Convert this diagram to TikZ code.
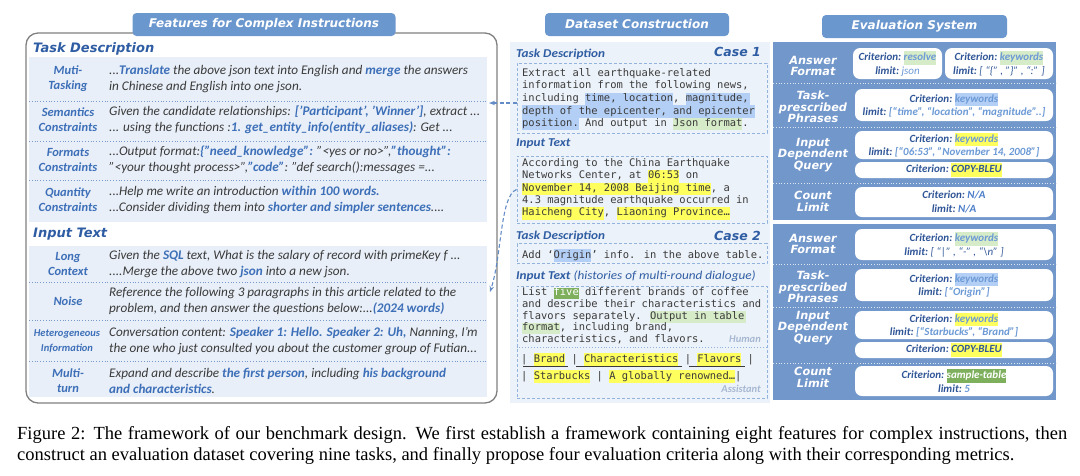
\documentclass[tikz,border=0pt]{standalone}
\usepackage{fontspec}
\setmainfont{Carlito}
\newfontfamily\verdfont{DejaVu Sans}
\newfontfamily\widefont[FakeStretch=1.1]{Carlito}
\newfontfamily\monofont{DejaVu Sans Mono}
\newfontfamily\capfont{Liberation Serif}
\usetikzlibrary{arrows.meta,positioning}

\definecolor{tabblue}{HTML}{6B97CF}
\definecolor{panelblue}{HTML}{7297CB}
\definecolor{rowbg}{HTML}{E8EFF8}
\definecolor{midbg}{HTML}{ECF2F9}
\definecolor{hdrblue}{HTML}{2F5DA3}
\definecolor{kwblue}{HTML}{3D6FB8}
\definecolor{bodygray}{HTML}{3A3A3A}
\definecolor{hlblue}{HTML}{B4CFF5}
\definecolor{hlgreen}{HTML}{D6EBC8}
\definecolor{hlyellow}{HTML}{FFFF5E}
\definecolor{hldgreen}{HTML}{7DAF5C}
\definecolor{dashblue}{HTML}{93B3DD}
\definecolor{lightkw}{HTML}{6C9AD6}
\definecolor{critblue}{HTML}{2F5597}
\definecolor{nablue}{HTML}{4A7DC8}
\definecolor{rolegray}{HTML}{A7B8D3}

\newcommand{\kw}[1]{\textcolor{kwblue}{\bfseries\itshape #1}}
\newcommand{\hl}[2]{{\setlength{\fboxsep}{0pt}\colorbox{#1}{\strut #2}}}
\newcommand{\crit}{Criterion:}
\newcommand{\limitlbl}{limit:}

\tikzset{
  tab/.style={fill=tabblue, rounded corners=4pt, text=white, minimum height=23pt,
    font=\verdfont\bfseries\itshape\fontsize{12}{14}\selectfont},
  hdr/.style={anchor=west, inner sep=0pt, text=hdrblue,
    font=\verdfont\bfseries\itshape\fontsize{13}{14}\selectfont},
  midhdr/.style={anchor=west, inner sep=0pt, text=hdrblue,
    font=\widefont\bfseries\itshape\fontsize{12}{14}\selectfont},
  casehdr/.style={anchor=east, inner sep=0pt, text=hdrblue,
    font=\verdfont\bfseries\itshape\fontsize{12.5}{14}\selectfont},
  lbl/.style={align=center, inner sep=0pt, text=kwblue,
    font=\bfseries\itshape\fontsize{12.5}{15}\selectfont},
  body/.style={anchor=west, align=left, inner sep=0pt, text=bodygray,
    font=\itshape\fontsize{13.2}{15.5}\selectfont},
  sep/.style={kwblue!70, dotted, line width=0.8pt},
  dbox/.style={draw=dashblue, dashed, dash pattern=on 3pt off 2pt, line width=1pt},
  mono/.style={anchor=north west, align=left, inner sep=0pt, text=bodygray,
    font=\monofont\fontsize{10.45}{12.6}\selectfont},
  role/.style={anchor=east, inner sep=0pt, text=rolegray,
    font=\bfseries\itshape\fontsize{10.5}{12}\selectfont},
  rlbl/.style={align=center, inner sep=0pt, text=white,
    font=\verdfont\bfseries\itshape\fontsize{11.3}{11.5}\selectfont},
  critbox/.style={fill=white, rounded corners=7pt, align=center, inner sep=1pt,
    text=critblue, minimum width=198pt, font=\bfseries\itshape\fontsize{11}{13.5}\selectfont},
  rsep/.style={white!75!panelblue, dotted, line width=0.8pt},
  link/.style={kwblue!80, dashed, dash pattern=on 4pt off 2.5pt, line width=1.1pt, -{Stealth[length=6pt]}},
  tblrule/.style={bodygray, line width=0.6pt},
  caption/.style={anchor=west, inner sep=0pt, font=\capfont\fontsize{18.5}{21}\selectfont}
}

\begin{document}
\begin{tikzpicture}[x=1pt,y=-1pt]
  \useasboundingbox (0,0) rectangle (1080,475);

  % left panel: features
  \draw[gray, line width=1.3pt, rounded corners=12pt] (26,33) rectangle (497,403);
  \node[tab, minimum width=263pt] (ftab) at (264,24.5) {Features for Complex Instructions};
  \node[hdr] (taskhdr) at (33,49) {Task Description};
  \fill[rowbg] (29,57) rectangle (487,222);
  \node[hdr] (inhdr) at (33,234) {Input Text};
  \fill[rowbg] (29,246) rectangle (487,397);
  \foreach \y in {101,141,180,282,320,361}
    \draw[sep] (29,\y) -- (487,\y);

  \node[lbl] (lmulti) at (68,79) {Muti-\\Tasking};
  \node[lbl] (lsem) at (68,120) {Semantics\\Constraints};
  \node[lbl] (lfmt) at (68,160) {Formats\\Constraints};
  \node[lbl] (lqty) at (68,200) {Quantity\\Constraints};
  \node[lbl] (llong) at (68,264) {Long\\Context};
  \node[lbl] (lnoise) at (68,301) {Noise};
  \node[lbl, font=\bfseries\itshape\fontsize{10.5}{15}\selectfont] (lhet) at (67,341) {Heterogeneous\\Information};
  \node[lbl] (lturn) at (68,381) {Multi-\\turn};

  \node[body] (tmulti) at (109,79) {...\kw{Translate} the above json text into English and \kw{merge} the answers\\in Chinese and English into one json.};
  \node[body] (tsem) at (109,120) {Given the candidate relationships: \kw{['Participant', 'Winner']}, extract ...\\... using the functions :\kw{1. get\_entity\_info(entity\_aliases)}: Get ...};
  \node[body] (tfmt) at (109,160) {...Output format:\kw{\{"need\_knowledge":} "<yes or no>",\kw{"thought":}\\"<your thought process>",\kw{"code"}: "def search():messages =...};
  \node[body] (tqty) at (109,200) {...Help me write an introduction \kw{within 100 words.}\\...Consider dividing them into \kw{shorter and simpler sentences}....};
  \node[body] (tlong) at (109,264) {Given the \kw{SQL} text, What is the salary of record with primeKey f ...\\....Merge the above two \kw{json} into a new json.};
  \node[body] (tnoise) at (109,301) {Reference the following 3 paragraphs in this article related to the\\problem, and then answer the questions below:...\kw{(2024 words)}};
  \node[body] (thet) at (109,341) {Conversation content: \kw{Speaker 1: Hello. Speaker 2: Uh,} Nanning, I'm\\the one who just consulted you about the customer group of Futian...};
  \node[body] (tturn) at (109,381) {Expand and describe \kw{the first person}, including \kw{his background}\\\kw{and characteristics}.};

  % middle panel: dataset construction
  \fill[midbg] (510,42) rectangle (770,403);
  \node[tab, minimum width=184pt] (dtab) at (637,24.5) {Dataset Construction};
  \node[midhdr] (td1) at (516,54) {Task Description};
  \node[casehdr] (case1) at (761,52) {Case 1};
  \node[dbox, minimum width=250pt, minimum height=70pt] (tdbox1) at (642,98) {};
  \node[mono] (tdtxt1) at (522,68) {Extract all earthquake-related\\information from the following news,\\including \hl{hlblue}{time, location}, \hl{hlblue}{magnitude,\,}\\\hl{hlblue}{depth of the epicenter, and epicenter}\\\hl{hlblue}{position.} And output in \hl{hlgreen}{Json format}.};
  \node[midhdr] (it1) at (516,144) {Input Text};
  \node[dbox, minimum width=250pt, minimum height=67pt] (indbox1) at (642,189.5) {};
  \node[mono, font=\monofont\fontsize{10.45}{12.3}\selectfont] (intxt1) at (522,158.5) {According to the China Earthquake\\Networks Center, at \hl{hlyellow}{06:53} on\\\hl{hlyellow}{November 14, 2008 Beijing time}, a\\4.3 magnitude earthquake occurred in\\\hl{hlyellow}{Haicheng City}, \hl{hlyellow}{Liaoning Province…}};

  \node[midhdr] (td2) at (516,236) {Task Description};
  \node[casehdr] (case2) at (761,236) {Case 2};
  \node[dbox, minimum width=250pt, minimum height=20pt] (tdbox2) at (642,253.5) {};
  \node[mono, anchor=base west] (tdtxt2) at (522,258) {Add ‘\hl{hlblue}{Origin}’ info. in the above table.};
  \node[midhdr] (it2) at (516,276) {Input Text \mdseries(histories of multi-round dialogue)};
  \node[dbox, minimum width=250pt, minimum height=112pt] (indbox2) at (642,342) {};
  \node[mono, font=\monofont\fontsize{10.45}{11.6}\selectfont] (intxt2) at (522,287.5) {List \hl{hldgreen}{\textcolor{white}{five}} different brands of coffee\\and describe their characteristics and\\flavors separately. \hl{hlgreen}{Output in table\,}\\\hl{hlgreen}{format}, including brand,\\characteristics, and flavors.};
  \node[role] (human) at (761,339) {Human};
  \draw[dashblue, dotted, line width=0.9pt] (indbox2.west |- 0,347) -- (indbox2.east |- 0,347);
  \node[mono, anchor=base west] (row1) at (521,362) {| \hl{hlyellow}{Brand} | \hl{hlyellow}{Characteristics} | \hl{hlyellow}{Flavors} |};
  \node[mono, anchor=base west] (row2) at (521,379) {| \hl{hlyellow}{Starbucks} | \hl{hlyellow}{A globally renowned…}|};
  \draw[tblrule] (523,366) -- (568,366);
  \draw[tblrule] (576,366) -- (682,366);
  \draw[tblrule] (689,366) -- (745,366);
  \node[role] (assist) at (761,389) {Assistant};

  % connectors
  \coordinate (tip1) at (489,103);
  \coordinate (tip2) at (490,292);
  \draw[link] (tdbox1.west |- 0,103) -- (tip1);
  \draw[link] (indbox1.west) .. controls (500,196) and (502,255) .. (tip2);

  % right panel: evaluation system
  \fill[panelblue] (773,42) rectangle (1056,220);
  \fill[panelblue] (773,224) rectangle (1056,400);
  \node[tab, minimum width=185pt] (etab) at (914.5,26.5) {Evaluation System};
  \foreach \y in {83,127,183,264,307,363}
    \draw[rsep] (773,\y) -- (1056,\y);

  \node[rlbl] (rans1) at (813,66) {Answer\\Format};
  \node[rlbl] (rtp1) at (813,107) {Task-\\prescribed\\Phrases};
  \node[rlbl] (rin1) at (813,155) {Input\\Dependent\\Query};
  \node[rlbl] (rcnt1) at (813,201.5) {Count\\Limit};
  \node[rlbl] (rans2) at (813,244) {Answer\\Format};
  \node[rlbl] (rtp2) at (813,287) {Task-\\prescribed\\Phrases};
  \node[rlbl] (rin2) at (813,328) {Input\\Dependent\\Query};
  \node[rlbl] (rcnt2) at (813,377.5) {Count\\Limit};

  \node[critbox, minimum width=89pt, minimum height=31pt] (ans1a) at (897.5,63.5) {\crit\ \hl{hlgreen}{\textcolor{lightkw}{resolve}}\\\limitlbl\ \textcolor{lightkw}{\mdseries json}};
  \node[critbox, minimum width=108pt, minimum height=31pt] (ans1b) at (999,63.5) {\crit\ \hl{hlgreen}{\textcolor{lightkw}{keywords}}\\\limitlbl\ {\mdseries[ “\{” , ”\}” , “:” ]}};
  \node[critbox, minimum height=32pt] (tp1) at (954,105) {\crit\ \hl{hlblue}{\textcolor{lightkw}{keywords}}\\\limitlbl\ \textcolor{lightkw}{[“time”, “location”, “magnitude”..]}};
  \node[critbox, minimum height=28pt] (in1a) at (954,145) {\crit\ \hl{hlyellow}{\textcolor{lightkw}{keywords}}\\\limitlbl\ \textcolor{lightkw}{[“06:53”, ”November 14, 2008”]}};
  \node[critbox, minimum height=16pt] (in1b) at (954,170) {\crit\ \hl{hlyellow}{COPY-BLEU}};
  \node[critbox, minimum height=30pt] (cnt1) at (954,202) {\crit\ \textcolor{nablue}{N/A}\\\limitlbl\ \textcolor{nablue}{N/A}};

  \node[critbox, minimum height=31pt] (ans2) at (954,244.5) {\crit\ \hl{hlgreen}{\textcolor{lightkw}{keywords}}\\\limitlbl\ {\mdseries[ “|” , “-” , “\textbackslash n” ]}};
  \node[critbox, minimum height=32pt] (tp2) at (954,285) {\crit\ \hl{hlblue}{\textcolor{lightkw}{keywords}}\\\limitlbl\ \textcolor{lightkw}{[“Origin”]}};
  \node[critbox, minimum height=28pt] (in2a) at (954,325) {\crit\ \hl{hlyellow}{\textcolor{lightkw}{keywords}}\\\limitlbl\ \textcolor{lightkw}{[“Starbucks”, “Brand”]}};
  \node[critbox, minimum height=16pt] (in2b) at (954,350) {\crit\ \hl{hlyellow}{COPY-BLEU}};
  \node[critbox, minimum height=30pt] (cnt2) at (954,381) {\crit\ \hl{hldgreen}{\textcolor{white}{sample-table}}\\\limitlbl\ \textcolor{lightkw}{5}};

  % caption
  \node[caption] (cap1) at (17,435) {\makebox[1050pt][s]{Figure 2: The framework of our benchmark design. We first establish a framework containing eight features for complex instructions, then}};
  \node[caption] (cap2) at (17,456) {construct an evaluation dataset covering nine tasks, and finally propose four evaluation criteria along with their corresponding metrics.};
\end{tikzpicture}
\end{document}
